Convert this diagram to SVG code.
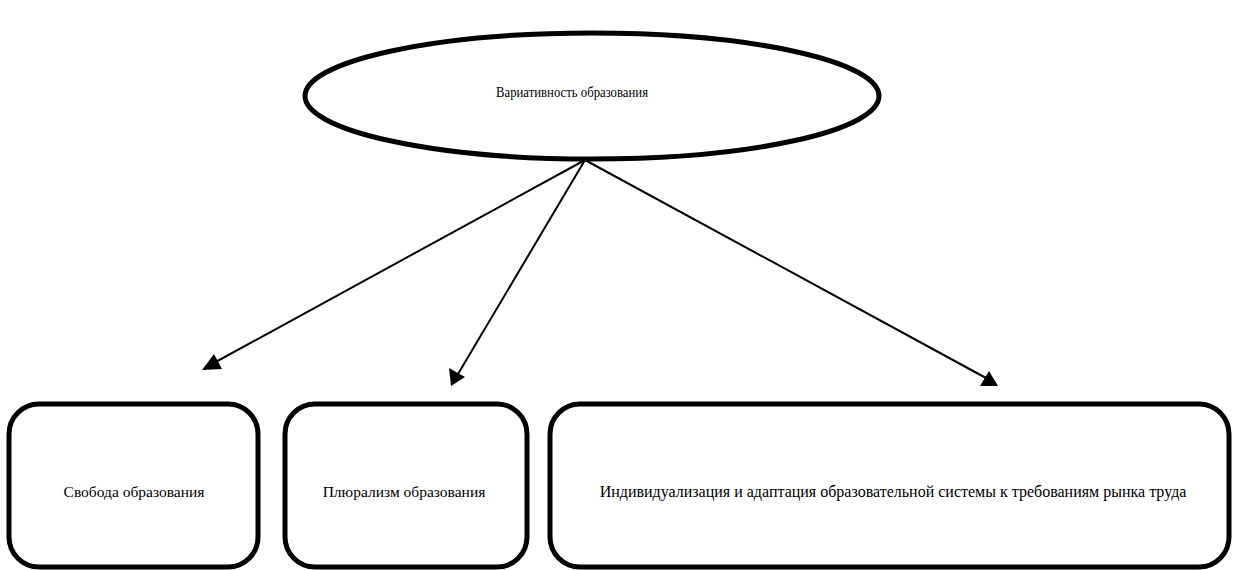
<svg xmlns="http://www.w3.org/2000/svg" width="1233" height="570" viewBox="0 0 1233 570">
<style>
.shape{fill:#fff;stroke:#000;stroke-width:5}
.t{font-family:'Liberation Serif','Times New Roman',serif;font-size:15.5px;fill:#000;text-anchor:middle}
.ln{stroke:#000;stroke-width:2;fill:none}
</style>
<g id="connectors">
<path class="ln" d="M585,160 L212,364"/>
<polygon points="202,370 214,354 222,369" fill="#000"/>
<path class="ln" d="M585,160 L458,374"/>
<polygon points="451,386 449,368 465,377" fill="#000"/>
<path class="ln" d="M585,160 L986,378"/>
<polygon points="998,386 980,386 989,371" fill="#000"/>
</g>
<g id="node-root">
<ellipse class="shape" cx="592" cy="96" rx="287" ry="63"/>
<text class="t" x="572" y="97" style="font-size:14.5px" textLength="152" lengthAdjust="spacingAndGlyphs">Вариативность образования</text>
</g>
<g id="node-freedom">
<rect class="shape" x="9" y="404" width="249" height="163" rx="30"/>
<text class="t" x="134" y="497">Свобода образования</text>
</g>
<g id="node-pluralism">
<rect class="shape" x="285" y="404" width="242" height="163" rx="30"/>
<text class="t" x="404" y="497">Плюрализм образования</text>
</g>
<g id="node-individual">
<rect class="shape" x="550" y="404" width="679" height="163" rx="30"/>
<text class="t" x="893" y="497" style="font-size:16px">Индивидуализация и адаптация образовательной системы к требованиям рынка труда</text>
</g>
</svg>
